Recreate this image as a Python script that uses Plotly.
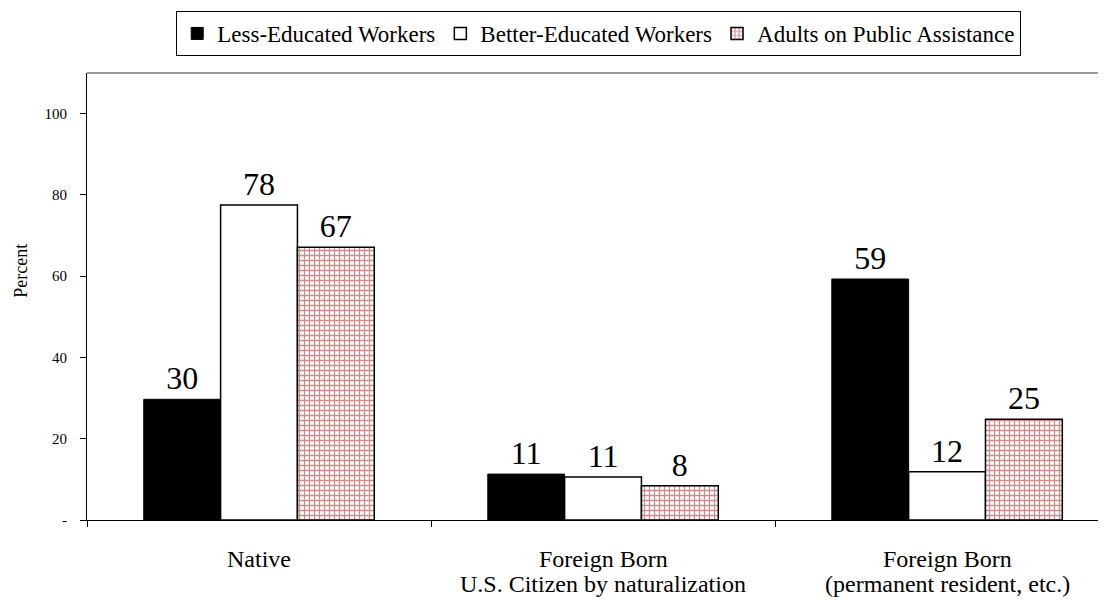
import plotly.graph_objects as go

categories = ['Native', 'Foreign Born U.S. Citizen', 'Foreign Born Permanent']
label_line1 = ['Native', 'Foreign Born', 'Foreign Born']
label_line2 = ['', 'U.S. Citizen by naturalization', '(permanent resident, etc.)']
less_educated = [29.7, 11.3, 59.3]
better_educated = [77.5, 10.6, 11.9]
public_assist = [67.1, 8.4, 24.8]

serif = 'Liberation Serif, Times New Roman, serif'
label_font = dict(size=32, color='black', family=serif)

fig = go.Figure()

fig.add_trace(go.Bar(
    x=categories, y=less_educated, name='Less-Educated Workers',
    marker=dict(color='black', line=dict(color='black', width=1)),
    texttemplate='%{y:.0f}', textposition='outside', textfont=label_font,
))
fig.add_trace(go.Bar(
    x=categories, y=better_educated, name='Better-Educated Workers',
    marker=dict(color='white', line=dict(color='black', width=1.5)),
    texttemplate='%{y:.0f}', textposition='outside', textfont=label_font,
))
fig.add_trace(go.Bar(
    x=categories, y=public_assist, name='Adults on Public Assistance',
    marker=dict(color='white', line=dict(color='black', width=1.5),
                pattern=dict(shape='+', fgcolor='#9b1c1c', bgcolor='white',
                             size=5, solidity=0.45)),
    texttemplate='%{y:.0f}', textposition='outside', textfont=label_font,
))

# grey frame line along the top of the plot area
fig.add_shape(type='line', xref='paper', yref='paper', x0=0, x1=1, y0=1, y1=1,
              line=dict(color='#999999', width=2))

# two-line category labels below the axis
for cat, l1, l2 in zip(categories, label_line1, label_line2):
    fig.add_annotation(x=cat, y=-0.088, xref='x', yref='paper', text=l1,
                       showarrow=False, yanchor='middle',
                       font=dict(size=24, family=serif, color='black'))
    if l2:
        fig.add_annotation(x=cat, y=-0.144, xref='x', yref='paper', text=l2,
                           showarrow=False, yanchor='middle',
                           font=dict(size=24, family=serif, color='black'))

# y-axis title, sitting a little above the middle as in the original
fig.add_annotation(x=-0.065, y=0.557, xref='paper', yref='paper', text='Percent',
                   textangle=-90, showarrow=False, xanchor='center', yanchor='middle',
                   font=dict(size=18, family=serif, color='black'))

fig.update_traces(cliponaxis=False)
fig.update_layout(
    width=1098, height=595,
    margin=dict(l=79, r=0, t=65, b=83, autoexpand=False),
    plot_bgcolor='white', paper_bgcolor='white',
    font=dict(family=serif, color='black'),
    barmode='group', bargap=0.33, bargroupgap=0,
    showlegend=True,
    legend=dict(orientation='h', x=0.538, xanchor='center', xref='container',
                y=0.995, yanchor='top', yref='container',
                bordercolor='black', borderwidth=1, font=dict(size=23),
                itemwidth=30, tracegroupgap=0),
    xaxis=dict(range=[-0.5, 2.462], showline=True, linecolor='black', linewidth=1,
               ticks='outside', tickson='boundaries', ticklen=6, tickcolor='black',
               showticklabels=False, showgrid=False, automargin=False),
    yaxis=dict(range=[0, 110], showline=True, linecolor='black', linewidth=1,
               tickvals=[0, 20, 40, 60, 80, 100],
               ticktext=['-', '20', '40', '60', '80', '100'],
               ticks='outside', ticklen=6, tickcolor='black', ticklabelstandoff=10,
               tickfont=dict(size=15), showgrid=False, zeroline=False,
               automargin=False),
)

fig.write_html('out.html')
